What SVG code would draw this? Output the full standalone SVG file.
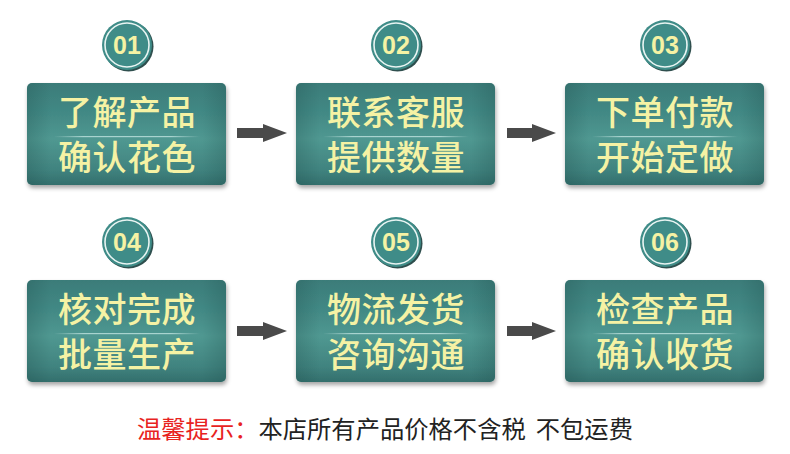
<svg xmlns="http://www.w3.org/2000/svg" width="790" height="454" viewBox="0 0 790 454">
<defs>
<linearGradient id="gv" x1="0" y1="0" x2="0" y2="1">
<stop offset="0" stop-color="#3b7c79"/>
<stop offset="0.3" stop-color="#428985"/>
<stop offset="0.55" stop-color="#509891"/>
<stop offset="0.85" stop-color="#40837f"/>
<stop offset="1" stop-color="#336f6c"/>
</linearGradient>
<linearGradient id="gh" x1="0" y1="0" x2="1" y2="0">
<stop offset="0" stop-color="#1d4c4a" stop-opacity="0.25"/>
<stop offset="0.12" stop-color="#1d4c4a" stop-opacity="0"/>
<stop offset="0.88" stop-color="#1d4c4a" stop-opacity="0"/>
<stop offset="1" stop-color="#1d4c4a" stop-opacity="0.25"/>
</linearGradient>
<linearGradient id="sep" x1="0" y1="0" x2="1" y2="0">
<stop offset="0" stop-color="#bfe3df" stop-opacity="0"/>
<stop offset="0.2" stop-color="#bfe3df" stop-opacity="0.8"/>
<stop offset="0.8" stop-color="#bfe3df" stop-opacity="0.8"/>
<stop offset="1" stop-color="#bfe3df" stop-opacity="0"/>
</linearGradient>
<filter id="sh" x="-10%" y="-10%" width="125%" height="130%">
<feGaussianBlur in="SourceAlpha" stdDeviation="2"/>
<feOffset dx="1" dy="3" result="b"/>
<feFlood flood-color="#000" flood-opacity="0.35"/>
<feComposite in2="b" operator="in"/>
<feMerge><feMergeNode/><feMergeNode in="SourceGraphic"/></feMerge>
</filter>
<g id="badge">
<circle cx="1.5" cy="1.5" r="25" fill="#2f4f4e"/>
<circle cx="0" cy="0" r="25" fill="#3f8c88"/>
<circle cx="0" cy="0" r="22" fill="none" stroke="#e8f4f2" stroke-width="1.6"/>
</g>
</defs>
<style>
.box{fill:url(#gv)}
.vig{fill:url(#gh)}
.t{font-family:"Noto Sans CJK SC","Microsoft YaHei",sans-serif;font-size:34px;font-weight:500;fill:#f5f2a4;text-anchor:middle;letter-spacing:0.5px}
.n{font-family:"Liberation Sans",Arial,sans-serif;font-size:25px;font-weight:bold;fill:#f5f2a4;text-anchor:middle}
.ar{fill:#4a4a4a}
.note{font-family:"Noto Sans CJK SC",sans-serif;font-size:24.3px}
</style>
<rect width="790" height="454" fill="#ffffff"/>

<g id="node1">
<use href="#badge" x="127" y="45"/><text class="n" x="127" y="54">01</text>
<g filter="url(#sh)"><rect class="box" x="27" y="83" width="199" height="102" rx="5"/></g>
<rect class="vig" x="27" y="83" width="199" height="102" rx="5"/>
<rect x="54" y="136" width="146" height="1.2" fill="url(#sep)"/>
<text class="t" x="127" y="125">了解产品</text>
<text class="t" x="127" y="170">确认花色</text>
</g>
<g id="node2">
<use href="#badge" x="396" y="45"/><text class="n" x="396" y="54">02</text>
<g filter="url(#sh)"><rect class="box" x="296" y="83" width="199" height="102" rx="5"/></g>
<rect class="vig" x="296" y="83" width="199" height="102" rx="5"/>
<rect x="323" y="136" width="146" height="1.2" fill="url(#sep)"/>
<text class="t" x="396" y="125">联系客服</text>
<text class="t" x="396" y="170">提供数量</text>
</g>
<g id="node3">
<use href="#badge" x="665" y="45"/><text class="n" x="665" y="54">03</text>
<g filter="url(#sh)"><rect class="box" x="565" y="83" width="199" height="102" rx="5"/></g>
<rect class="vig" x="565" y="83" width="199" height="102" rx="5"/>
<rect x="592" y="136" width="146" height="1.2" fill="url(#sep)"/>
<text class="t" x="665" y="125">下单付款</text>
<text class="t" x="665" y="170">开始定做</text>
</g>
<g id="node4">
<use href="#badge" x="127" y="242"/><text class="n" x="127" y="251">04</text>
<g filter="url(#sh)"><rect class="box" x="27" y="280" width="199" height="102" rx="5"/></g>
<rect class="vig" x="27" y="280" width="199" height="102" rx="5"/>
<rect x="54" y="333" width="146" height="1.2" fill="url(#sep)"/>
<text class="t" x="127" y="322">核对完成</text>
<text class="t" x="127" y="367">批量生产</text>
</g>
<g id="node5">
<use href="#badge" x="396" y="242"/><text class="n" x="396" y="251">05</text>
<g filter="url(#sh)"><rect class="box" x="296" y="280" width="199" height="102" rx="5"/></g>
<rect class="vig" x="296" y="280" width="199" height="102" rx="5"/>
<rect x="323" y="333" width="146" height="1.2" fill="url(#sep)"/>
<text class="t" x="396" y="322">物流发货</text>
<text class="t" x="396" y="367">咨询沟通</text>
</g>
<g id="node6">
<use href="#badge" x="665" y="242"/><text class="n" x="665" y="251">06</text>
<g filter="url(#sh)"><rect class="box" x="565" y="280" width="199" height="102" rx="5"/></g>
<rect class="vig" x="565" y="280" width="199" height="102" rx="5"/>
<rect x="592" y="333" width="146" height="1.2" fill="url(#sep)"/>
<text class="t" x="665" y="322">检查产品</text>
<text class="t" x="665" y="367">确认收货</text>
</g>

<g id="connectors">
<polygon class="ar" points="237,128 263,128 263,124 287,133 263,142 263,138 237,138"/>
<polygon class="ar" points="507,128 532,128 532,124 556,133 532,142 532,138 507,138"/>
<polygon class="ar" points="237,326 263,326 263,322 287,331 263,340 263,336 237,336"/>
<polygon class="ar" points="507,326 532,326 532,322 556,331 532,340 532,336 507,336"/>
</g>

<text class="note" x="137" y="438"><tspan fill="#e8231f">温馨提示：</tspan><tspan fill="#222222">本店所有产品价格不含税</tspan><tspan fill="#222222" dx="10">不包运费</tspan></text>
</svg>
